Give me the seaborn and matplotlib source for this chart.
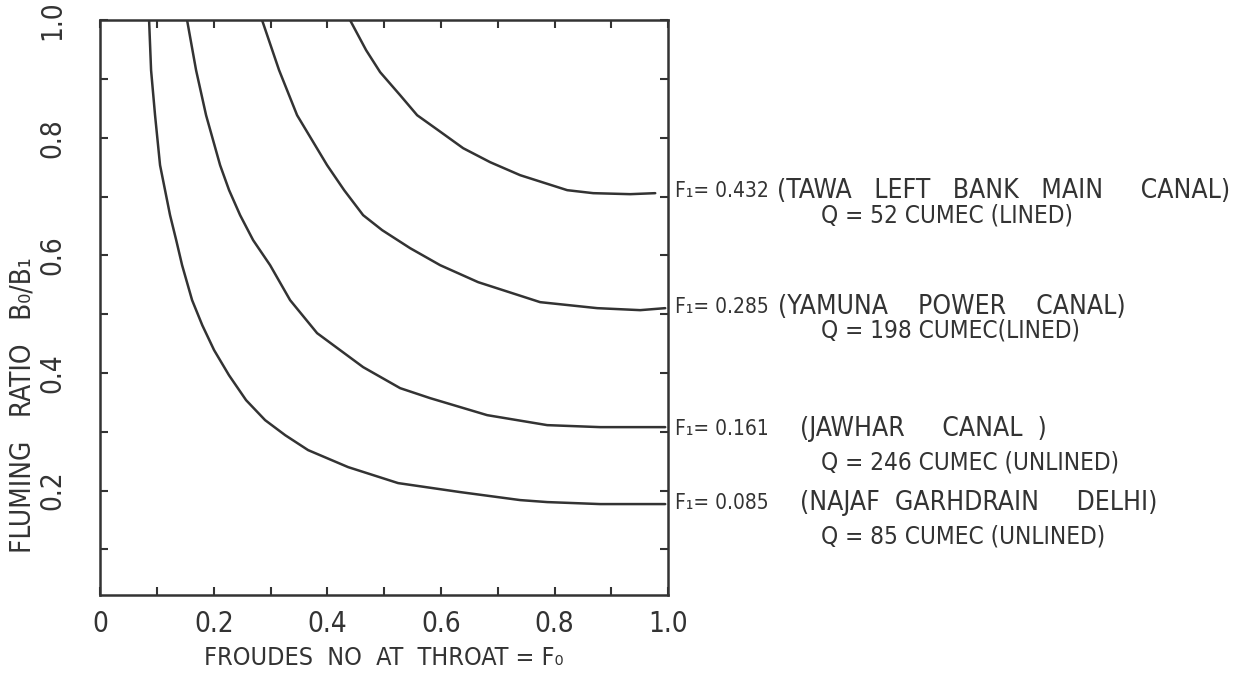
import matplotlib
matplotlib.use("Agg")
import matplotlib.pyplot as plt
from matplotlib.ticker import MultipleLocator, FixedLocator
import seaborn as sns

# ---- data ----
fo_085 = [0.0863, 0.0898, 0.0968, 0.1056, 0.1232, 0.134, 0.1444, 0.162, 0.180, 0.2007, 0.227, 0.257,
          0.2905, 0.326, 0.3662, 0.4366, 0.5246, 0.6338, 0.7394, 0.787, 0.8803, 0.9947]
br_085 = [1.000, 0.915, 0.8384, 0.7534, 0.6684, 0.626, 0.5833, 0.5238, 0.481, 0.4388, 0.396, 0.3537,
          0.3197, 0.294, 0.2687, 0.2398, 0.2126, 0.1973, 0.1837, 0.1803, 0.1769, 0.1769]

fo_161 = [0.1532, 0.169, 0.1866, 0.2113, 0.2271, 0.2465, 0.2694, 0.2993, 0.3345, 0.382, 0.463,
          0.5282, 0.581, 0.6813, 0.787, 0.8803, 0.9947]
br_161 = [1.000, 0.915, 0.8384, 0.7534, 0.7109, 0.6684, 0.6259, 0.5833, 0.5238, 0.4677, 0.4099,
          0.3741, 0.3571, 0.3282, 0.3112, 0.3078, 0.3078]

fo_285 = [0.2852, 0.3151, 0.3468, 0.3732, 0.3996, 0.4296, 0.463, 0.4965, 0.5458, 0.5986, 0.6655,
          0.7746, 0.875, 0.9507, 0.9947]
br_285 = [1.000, 0.915, 0.8384, 0.7959, 0.7534, 0.7109, 0.6684, 0.6429, 0.6122, 0.5833, 0.5544,
          0.5204, 0.5102, 0.5068, 0.5102]

fo_432 = [0.4401, 0.4683, 0.493, 0.5282, 0.5581, 0.5951, 0.6391, 0.6866, 0.7394, 0.8222, 0.868,
          0.9331, 0.9771]
br_432 = [1.000, 0.949, 0.9116, 0.8724, 0.8384, 0.8129, 0.7823, 0.7585, 0.7364, 0.7109, 0.7058,
          0.7041, 0.7058]

f1_labels = ["F\u2081= 0.432", "F\u2081= 0.285", "F\u2081= 0.161", "F\u2081= 0.085"]
canal_names = ["(TAWA   LEFT   BANK   MAIN     CANAL)", "(YAMUNA    POWER    CANAL)",
               "(JAWHAR     CANAL  )", "(NAJAF  GARHDRAIN     DELHI)"]
discharge = ["Q = 52 CUMEC (LINED)", "Q = 198 CUMEC(LINED)",
             "Q = 246 CUMEC (UNLINED)", "Q = 85 CUMEC (UNLINED)"]

x_ticks = [0, 0.2, 0.4, 0.6, 0.8, 1.0]
x_ticklabels = ["0", "0.2", "0.4", "0.6", "0.8", "1.0"]
y_ticks = [0.2, 0.4, 0.6, 0.8, 1.0]
y_ticklabels = ["0.2", "0.4", "0.6", "0.8", "1.0"]

# ---- styling ----
sns.set_theme(style="white")
plt.rcParams["font.family"] = ["DejaVu Sans"]
plt.rcParams["font.stretch"] = "condensed"
INK = "#333333"

fig = plt.figure(figsize=(12.46, 6.74), dpi=100)
ax = fig.add_axes([0.0803, 0.117, 0.456, 0.853])

curves = [(fo_432, br_432), (fo_285, br_285), (fo_161, br_161), (fo_085, br_085)]
for fx, fy in curves:
    sns.lineplot(x=fx, y=fy, ax=ax, color=INK, linewidth=1.8, sort=True)

ax.set_xlim(0, 1.0)
ax.set_ylim(0.022, 1.0)

for s in ax.spines.values():
    s.set_color(INK)
    s.set_linewidth(1.8)

ax.xaxis.set_major_locator(FixedLocator(x_ticks))
ax.set_xticklabels(x_ticklabels)
ax.xaxis.set_minor_locator(MultipleLocator(0.1))
ax.yaxis.set_major_locator(FixedLocator(y_ticks))
ax.set_yticklabels(y_ticklabels, rotation=90, va="center")
ax.yaxis.set_minor_locator(MultipleLocator(0.1))
ax.tick_params(which="both", direction="in", top=True, right=True, bottom=True, left=True,
               length=6, width=1.5, color=INK, labelsize=20, labelcolor=INK)
ax.tick_params(axis="x", pad=11)
ax.tick_params(axis="y", pad=24)

ax.set_xlabel("FROUDES  NO  AT  THROAT = F\u2080", fontsize=18, color=INK)
ax.xaxis.set_label_coords(0.50, -0.088)
ax.set_ylabel("FLUMING   RATIO   B\u2080/B\u2081", fontsize=20, color=INK)
ax.yaxis.set_label_coords(-0.112, 0.33)

# annotations on the right
y_line1 = [0.710, 0.512, 0.304, 0.178]
y_line2 = [0.667, 0.473, 0.248, 0.121]
x_name = [1.192, 1.194, 1.232, 1.232]
for f1, name, q, ya, yb, xn in zip(f1_labels, canal_names, discharge, y_line1, y_line2, x_name):
    ax.text(1.012, ya, f1, fontsize=15, color=INK, va="center", ha="left", clip_on=False)
    ax.text(xn, ya, name, fontsize=19, color=INK, va="center", ha="left", clip_on=False)
    ax.text(1.268, yb, q, fontsize=17.5, color=INK, va="center", ha="left", clip_on=False)

fig.savefig("out.png", dpi=100, facecolor="white")
